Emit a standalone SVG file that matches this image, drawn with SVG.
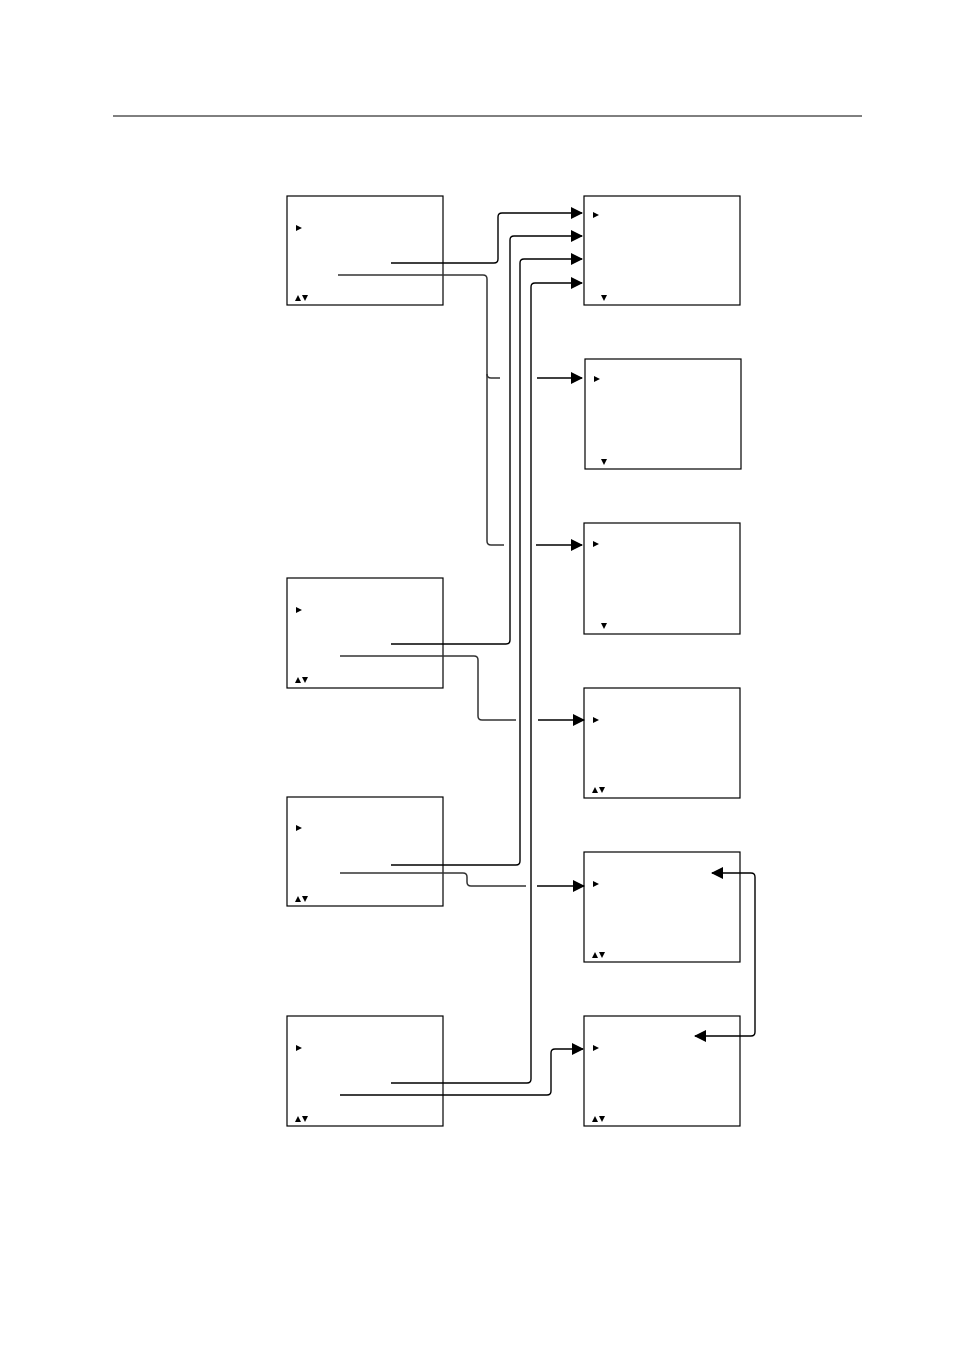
<svg xmlns="http://www.w3.org/2000/svg" width="954" height="1351" viewBox="0 0 954 1351">
<style>
.b{fill:#fff;stroke:#000;stroke-width:1.2}
.c{fill:none;stroke:#000;stroke-width:1.4}
.g{fill:none;stroke:#333;stroke-width:1.5}
</style>
<defs>
<marker id="a" markerWidth="12" markerHeight="12" refX="11" refY="6" orient="auto-start-reverse" markerUnits="userSpaceOnUse" viewBox="0 0 12 12"><path d="M0,0L12,6L0,12z"/></marker>
<g id="r"><path d="M0,-3L6,0L0,3z"/></g>
<g id="ud"><path d="M0,3L3,-3L6,3z"/><path d="M7,-3L13,-3L10,3z"/></g>
<g id="d"><path d="M0,-3L6,-3L3,3z"/></g>
</defs>
<line x1="113" y1="116" x2="862" y2="116" stroke="#000" stroke-width="1"/>
<g id="L1"><rect class="b" x="287" y="196" width="156" height="109"/><use href="#r" x="296" y="228"/><use href="#ud" x="295" y="298"/></g>
<g id="L2"><rect class="b" x="287" y="578" width="156" height="110"/><use href="#r" x="296" y="610"/><use href="#ud" x="295" y="680"/></g>
<g id="L3"><rect class="b" x="287" y="797" width="156" height="109"/><use href="#r" x="296" y="828"/><use href="#ud" x="295" y="899"/></g>
<g id="L4"><rect class="b" x="287" y="1016" width="156" height="110"/><use href="#r" x="296" y="1048"/><use href="#ud" x="295" y="1119"/></g>
<g id="R1"><rect class="b" x="584" y="196" width="156" height="109"/><use href="#r" x="593" y="215"/><use href="#d" x="601" y="298"/></g>
<g id="R2"><rect class="b" x="585" y="359" width="156" height="110"/><use href="#r" x="594" y="379"/><use href="#d" x="601" y="462"/></g>
<g id="R3"><rect class="b" x="584" y="523" width="156" height="111"/><use href="#r" x="593" y="544"/><use href="#d" x="601" y="626"/></g>
<g id="R4"><rect class="b" x="584" y="688" width="156" height="110"/><use href="#r" x="593" y="720"/><use href="#ud" x="592" y="790"/></g>
<g id="R5"><rect class="b" x="584" y="852" width="156" height="110"/><use href="#r" x="593" y="884"/><use href="#ud" x="592" y="955"/></g>
<g id="R6"><rect class="b" x="584" y="1016" width="156" height="110"/><use href="#r" x="593" y="1048"/><use href="#ud" x="592" y="1119"/></g>
<g id="connectors">
<path class="c" d="M391,263H494Q498,263 498,259V217Q498,213 502,213H582" marker-end="url(#a)"/>
<path class="c" d="M391,644H506Q510,644 510,640V240Q510,236 514,236H582" marker-end="url(#a)"/>
<path class="c" d="M391,865H516Q520,865 520,861V263Q520,259 524,259H582" marker-end="url(#a)"/>
<path class="c" d="M391,1083H527Q531,1083 531,1079V287Q531,283 535,283H582" marker-end="url(#a)"/>
<path class="g" d="M338,275H483Q487,275 487,279V541Q487,545 491,545H504"/>
<path class="g" d="M487,374Q487,378 491,378H500"/>
<path class="c" d="M537,378H582" marker-end="url(#a)"/>
<path class="c" d="M536,545H582" marker-end="url(#a)"/>
<path class="g" d="M340,656H474Q478,656 478,660V716Q478,720 482,720H516"/>
<path class="c" d="M538,720H584" marker-end="url(#a)"/>
<path class="g" d="M340,873H463Q467,873 467,877V882Q467,886 471,886H526"/>
<path class="c" d="M537,886H584" marker-end="url(#a)"/>
<path class="c" d="M340,1095H547Q551,1095 551,1091V1053Q551,1049 555,1049H583" marker-end="url(#a)"/>
<path class="c" d="M712,873H751Q755,873 755,877V1032Q755,1036 751,1036H695" marker-start="url(#a)" marker-end="url(#a)"/>
</g>
</svg>
